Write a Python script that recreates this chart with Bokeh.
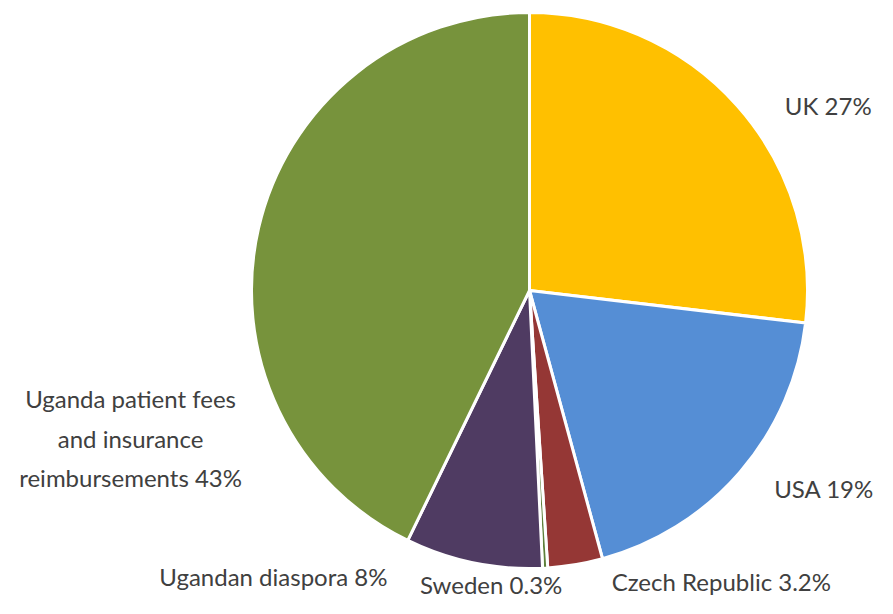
import math
from bokeh.plotting import figure
from bokeh.models import ColumnDataSource
from bokeh.core.properties import value
from bokeh.embed import file_html
from bokeh.resources import INLINE

# ---- data ----
categories = ["UK", "USA", "Czech Republic", "Sweden", "Ugandan diaspora",
              "Uganda patient fees\nand insurance\nreimbursements"]
shares = [27, 19, 3.2, 0.3, 8, 43]
share_labels = ["27%", "19%", "3.2%", "0.3%", "8%", "43%"]
colors = ["#FFC000", "#558ED5", "#953735", "#5E7F3A", "#4F3B62", "#77933C"]

# ---- layout ----
W, H = 877, 598
cx, cy = 529, 308
R = 278
label_nudge = [(91, 0), (84, -17), (146, -17), (-54, -16), (-200, -14), (-128, -210)]

total = sum(shares)
starts, ends, mids = [], [], []
a = math.pi / 2
for s in shares:
    span = s / total * 2 * math.pi
    starts.append(a)
    ends.append(a - span)
    mids.append(a - span / 2)
    a -= span

src = ColumnDataSource(dict(start=starts, end=ends, color=colors,
                            x=[cx] * len(shares), y=[cy] * len(shares)))

p = figure(width=W, height=H, x_range=(0, W), y_range=(0, H),
           output_backend="svg", toolbar_location=None, min_border=0)
p.axis.visible = False
p.grid.visible = False
p.outline_line_color = None
p.background_fill_color = "white"

p.wedge(x="x", y="y", radius=R, start_angle="start", end_angle="end",
        direction="clock", fill_color="color", line_color="white",
        line_width=3, source=src)

lx, ly, lt = [], [], []
for i, m in enumerate(mids):
    lx.append(cx + R * math.cos(m) + label_nudge[i][0])
    ly.append(cy + R * math.sin(m) + label_nudge[i][1])
    lt.append(f"{categories[i]} {share_labels[i]}")

p.text(x=lx, y=ly, text=lt, text_font=value("Lato"), text_font_size="24px",
       text_color="#404040", text_align="center", text_baseline="middle",
       text_line_height=1.35)

open("out.html", "w").write(file_html(p, INLINE))
